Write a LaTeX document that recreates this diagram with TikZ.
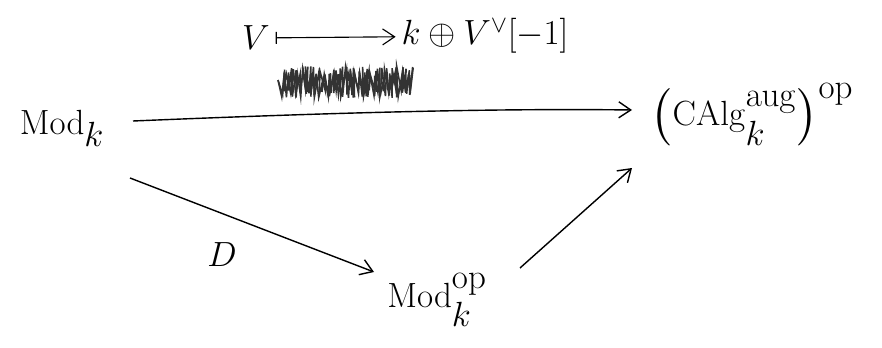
\documentclass[tikz,border=0pt]{standalone}
\usepackage{amsmath,amssymb}
\usetikzlibrary{arrows.meta,positioning}

\begin{document}
\begin{tikzpicture}[x=0.025cm, y=-0.025cm,
  obj/.style={inner sep=0pt, font=\fontsize{34}{40}\selectfont},
  lbl/.style={inner sep=0pt, font=\fontsize{26}{30}\selectfont},
  arrow/.style={-{Straight Barb[length=3mm, width=4mm]}, line width=1pt},
  scribble/.style={line width=1.1pt, black!80}
]
\useasboundingbox (0,0) rectangle (882,348);
% objects
\node[obj] (mod) at (62,128) {$\mathrm{Mod}_k$};
\node[obj] (calg) at (752,116) {$\Bigl(\mathrm{CAlg}_k^{\mathrm{aug}}\Bigr)^{\mathrm{op}}$};
\node[obj] (modop) at (437,300) {$\mathrm{Mod}_k^{\mathrm{op}}$};
% top label
\node[lbl] (v) at (256,38) {$V$};
\node[lbl] (dual) at (485,36) {$k \oplus V^{\vee}[-1]$};
\draw[{Bar[width=3mm]}-{Straight Barb[length=3mm, width=4mm]}, line width=0.8pt, shorten <=4pt, shorten >=4pt] (v) -- (dual);
% crossed out word
\foreach \s in {7,11} {
  \pgfmathsetseed{\s}
  \draw[scribble] (278,80) \foreach \i in {1,...,70} {
    -- ({278+1.9*\i+4*rnd}, {mod(\i,2)==0 ? 66+10*rnd : 90+8*rnd})};
}
% arrows
\coordinate (s1) at (133,121);
\coordinate (t1) at (632,110);
\draw[arrow] (s1) .. controls (300,114) and (480,108) .. (t1);
\coordinate (s2) at (130,178);
\coordinate (t2) at (374,272);
\draw[arrow] (s2) -- (t2);
\node[lbl] (d) at (222,255) {$D$};
\coordinate (s3) at (520,268);
\coordinate (t3) at (632,168);
\draw[arrow] (s3) -- (t3);
\end{tikzpicture}
\end{document}
